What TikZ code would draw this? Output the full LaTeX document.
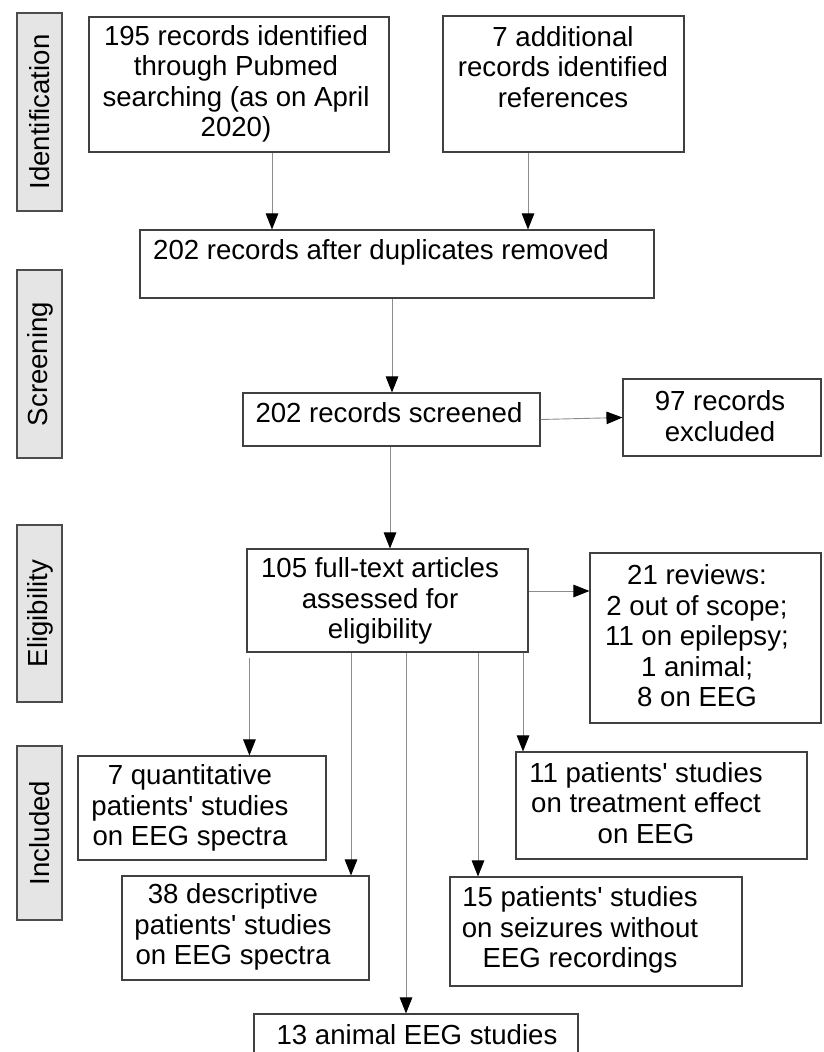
\documentclass[tikz,border=0pt]{standalone}
\usepackage{fontspec}
\setmainfont{Liberation Sans}
\usetikzlibrary{arrows.meta,calc}
\begin{document}
\begin{tikzpicture}[x=1pt,y=1pt,
  box/.style={draw=black!75,line width=1.1pt,rectangle,inner sep=0pt},
  txt/.style={align=center,inner sep=0pt,font=\fontsize{27.6}{30.5}\selectfont},
  side/.style={draw=black!70,fill=black!10,line width=1.1pt,rectangle,inner sep=0pt,minimum width=45pt},
  sidetxt/.style={rotate=90,inner sep=0pt,font=\fontsize{27.6}{30.5}\selectfont},
  arr/.style={draw=black!45,line width=0.9pt,-{Triangle[length=16pt,width=12.5pt,color=black]}}]
\useasboundingbox (0,0) rectangle (824,-1052);
\clip (0,0) rectangle (824,-1052);
% side labels
\node[side,minimum height=198pt] (sI) at (39.5,-112) {};
\node[sidetxt] (tI) at (40,-112) {Identification};
\node[side,minimum height=188pt] (sS) at (39.5,-364) {};
\node[sidetxt] (tS) at (40,-364) {Screening};
\node[side,minimum height=177pt] (sE) at (39.5,-613.5) {};
\node[sidetxt] (tE) at (40,-613.5) {Eligibility};
\node[side,minimum height=174pt] (sN) at (39.5,-833) {};
\node[sidetxt] (tN) at (40,-833) {Included};
% boxes
\node[box,minimum width=300pt,minimum height=135pt] (A) at (239,-84.5) {};
\node[txt] (tA) at (236,-84) {195 records identified\\through Pubmed\\searching (as on April\\2020)};
\node[box,minimum width=241pt,minimum height=136pt] (B) at (563.5,-84) {};
\node[txt] (tB) at (563,-67) {7 additional\\records identified\\references};
\node[box,minimum width=514pt,minimum height=68pt] (C) at (397,-264) {};
\node[txt] (tC) at (381,-252) {202 records after duplicates removed};
\node[box,minimum width=297pt,minimum height=53pt] (D) at (391.5,-419.5) {};
\node[txt] (tD) at (389,-413) {202 records screened};
\node[box,minimum width=198pt,minimum height=77pt] (E) at (722,-417.5) {};
\node[txt] (tE2) at (720,-416) {97 records\\excluded};
\node[box,minimum width=281pt,minimum height=103pt] (F) at (387.5,-600.5) {};
\node[txt] (tF) at (380,-601) {105 full-text articles\\assessed for\\eligibility};
\node[box,minimum width=231pt,minimum height=170pt] (R) at (705.5,-638) {};
\node[txt] (tR) at (697,-636) {21 reviews:\\2 out of scope;\\11 on epilepsy;\\1 animal;\\8 on EEG};
\node[box,minimum width=248pt,minimum height=104pt] (Q7) at (202,-808) {};
\node[txt] (tQ7) at (190,-808) {7 quantitative\\patients\textquotesingle{} studies\\on EEG spectra};
\node[box,minimum width=247pt,minimum height=104pt] (Q38) at (245.5,-928) {};
\node[txt] (tQ38) at (233,-927) {38 descriptive\\patients\textquotesingle{} studies\\on EEG spectra};
\node[box,minimum width=291pt,minimum height=107pt] (Q11) at (661.5,-805.5) {};
\node[txt] (tQ11) at (646,-803) {11 patients\textquotesingle{} studies\\on treatment effect\\on EEG};
\node[box,minimum width=292pt,minimum height=109pt] (Q15) at (596,-931.5) {};
\node[txt] (tQ15) at (580,-930) {15 patients\textquotesingle{} studies\\on seizures without\\EEG recordings};
\node[box,minimum width=324pt,minimum height=61pt] (Q13) at (416,-1044.5) {};
\node[txt] (tQ13) at (417,-1035) {13 animal EEG studies};
% arrows
\draw[arr] ([xshift=33pt]A.south) -- ([xshift=33pt]A.south |- C.north);
\draw[arr] ([xshift=-35.5pt]B.south) -- ([xshift=-35.5pt]B.south |- C.north);
\draw[arr] ([xshift=-5pt]C.south) -- ([xshift=-5pt]C.south |- D.north);
\draw[arr] (D.east) -- (E.west);
\draw[arr] ([xshift=-1.5pt]D.south) -- ([xshift=-1.5pt]D.south |- F.north);
\draw[arr] ([yshift=9.5pt]F.east) -- ([yshift=9.5pt]F.east -| R.west);
\draw[arr] ([xshift=3pt,yshift=-5pt]F.south west) -- ([xshift=3pt]F.south west |- Q7.north);
\draw[arr] ([xshift=-36.5pt]F.south) -- ([xshift=-36.5pt]F.south |- Q38.north);
\draw[arr] ([xshift=18.5pt]F.south) -- ([xshift=18.5pt]F.south |- Q13.north);
\draw[arr] ([xshift=90.5pt]F.south) -- ([xshift=90.5pt]F.south |- Q15.north);
\draw[arr] ([xshift=135.5pt]F.south) -- ([xshift=135.5pt]F.south |- Q11.north);
\end{tikzpicture}
\end{document}
